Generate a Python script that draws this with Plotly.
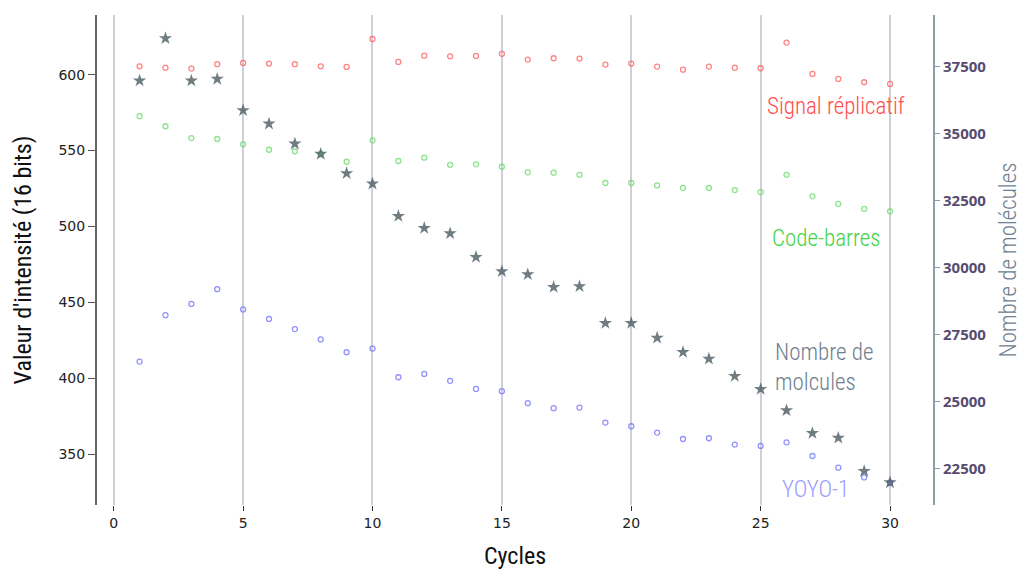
import plotly.graph_objects as go

cycles = list(range(1, 31))

signal_replicatif = [605.5, 604.6, 604.0, 606.9, 607.7, 607.3, 606.9, 605.5, 605.1, 623.5,
                     608.4, 612.5, 612.1, 612.3, 613.7, 609.9, 610.8, 610.6, 606.6, 607.3,
                     605.3, 603.3, 605.3, 604.6, 604.2, 621.1, 600.5, 597.2, 595.0, 593.9]

code_barres = [572.6, 566.0, 558.2, 557.6, 554.1, 550.5, 549.5, 547.7, 542.6, 556.7,
               543.1, 545.3, 540.6, 540.9, 539.3, 535.6, 535.4, 534.0, 528.6, 528.6,
               527.0, 525.4, 525.3, 523.9, 522.6, 534.0, 519.8, 514.9, 511.6, 509.9]

yoyo1 = [410.9, 441.5, 448.9, 458.6, 445.3, 439.0, 432.3, 425.5, 417.1, 419.5,
         400.6, 402.8, 398.2, 392.9, 391.4, 383.5, 380.2, 380.6, 370.7, 368.3,
         364.1, 359.9, 360.4, 356.2, 355.3, 357.7, 348.7, 341.0, 334.6, 331.1]

nombre_molecules = [36977, 38561, 36977, 37040, 35871, 35370, 34623, 34238, 33516, 33128,
                    31921, 31473, 31274, 30389, 29854, 29742, 29267, 29294, 27922, 27922,
                    27373, 26838, 26588, 25942, 25456, 24660, 23812, 23636, 22392, 21969]

x_ticks = [0, 5, 10, 15, 20, 25, 30]
y_ticks = [350, 400, 450, 500, 550, 600]
y2_ticks = [22500, 25000, 27500, 30000, 32500, 35000, 37500]

COND = "Roboto Condensed, Liberation Sans Narrow, DejaVu Sans Condensed, sans-serif"
COND_LIGHT = "Roboto Condensed Light, Roboto Condensed, DejaVu Sans Condensed, sans-serif"
SLATE = "#708090"

fig = go.Figure()

def circles(y, color, name):
    return go.Scatter(x=cycles, y=y, mode="markers", name=name,
                      marker=dict(symbol="circle-open", size=5, color=color,
                                  line=dict(width=1.3, color=color)))

fig.add_trace(circles(signal_replicatif, "rgba(255,90,90,0.75)", "Signal réplicatif"))
fig.add_trace(circles(code_barres, "rgba(90,215,90,0.7)", "Code-barres"))
fig.add_trace(circles(yoyo1, "rgba(110,110,255,0.75)", "YOYO-1"))
fig.add_trace(go.Scatter(x=cycles, y=nombre_molecules, mode="markers", yaxis="y2",
                         name="Nombre de molécules",
                         marker=dict(symbol="star", size=10, color="rgba(70,88,96,0.78)",
                                     line=dict(width=0))))

ann = [
    dict(text="Signal réplicatif", x=27.9, y=578.7, color="#ff4d4d", xanchor="center"),
    dict(text="Code-barres", x=27.54, y=491.9, color="#44d444", xanchor="center"),
    dict(text="Nombre de<br>molcules", x=25.48, y=406.7, color=SLATE, xanchor="left"),
    dict(text="YOYO-1", x=27.11, y=326.3, color="#9a9aff", xanchor="center"),
]
for a in ann:
    fig.add_annotation(x=a["x"], y=a["y"], xref="x", yref="y", text=a["text"],
                       showarrow=False, xanchor=a["xanchor"], yanchor="middle", align="left",
                       font=dict(family=COND_LIGHT, size=23, color=a["color"]))

fig.update_layout(
    width=1025, height=570,
    margin=dict(l=97, r=92, t=15, b=65),
    paper_bgcolor="white", plot_bgcolor="white",
    showlegend=False,
    xaxis=dict(range=[-0.646, 31.66], tickvals=x_ticks, showgrid=True, automargin=False,
               gridcolor="#cfcfd9", gridwidth=1.5, showline=False, zeroline=False,
               ticks="outside", ticklen=5, tickcolor="#333", tickwidth=1,
               tickfont=dict(family="DejaVu Sans", size=14, color="#222"),
               title=dict(text="Cycles", font=dict(family=COND, size=24, color="#111"),
                          standoff=21)),
    yaxis=dict(range=[316.4, 639.3], tickvals=y_ticks, showgrid=False, zeroline=False,
               showline=True, linecolor="#666", linewidth=2, automargin=False,
               ticks="outside", ticklen=7, tickcolor="#555", tickwidth=1,
               tickfont=dict(family="DejaVu Sans", size=14, color="#222"),
               title=dict(text="Valeur d'intensité (16 bits)",
                          font=dict(family=COND, size=24, color="#111"), standoff=20)),
    yaxis2=dict(range=[21129, 39431], tickvals=y2_ticks, tickformat="d",
                overlaying="y", side="right", automargin=False,
                showgrid=False, zeroline=False, showline=True, linecolor="#8e9ca4",
                linewidth=2, ticks="outside", ticklen=5, tickcolor="#8e9ca4",
                tickfont=dict(family="Open Sans", size=15, color="#574c70", weight=700),
                title=dict(text="Nombre de molécules",
                           font=dict(family=COND_LIGHT, size=23, color=SLATE), standoff=15)),
)

fig.write_html("out.html")
